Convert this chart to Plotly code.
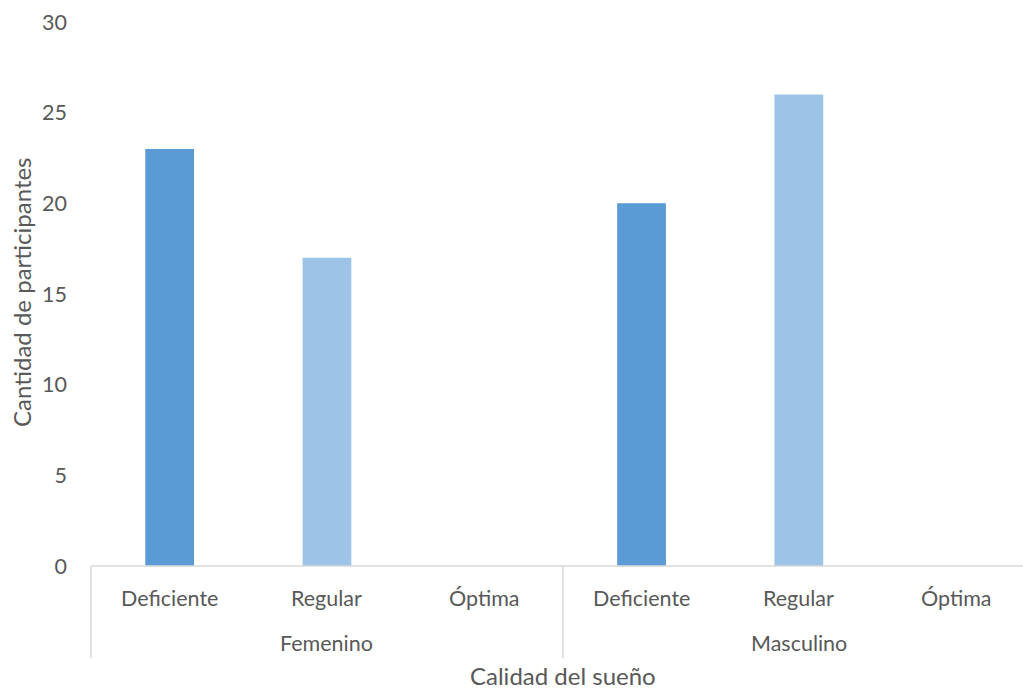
import plotly.graph_objects as go

# Sleep-quality counts by sex
grupos = ["Femenino", "Masculino"]
calidades = ["Deficiente", "Regular", "Óptima"]
valores = {
    "Deficiente": [23, 20],
    "Regular": [17, 26],
    "Óptima": [0, 0],
}
colores = {"Deficiente": "#5B9BD5", "Regular": "#9DC3E6", "Óptima": "#A5A5A5"}
y_ticks = [0, 5, 10, 15, 20, 25, 30]

W, H = 1023, 692
M_L, M_R, M_T, M_B = 91, 0, 22, 126
X_RANGE = [0, 5.925]
TXT = "#595959"
LINE = "#D9D9D9"
FONT = "Lato"
TICK_SIZE = 21.5
TITLE_SIZE = 24

n_cal = len(calidades)
plot_w = W - M_L - M_R
plot_h = H - M_T - M_B


def xp(v):
    """Data x -> paper x."""
    return (v - X_RANGE[0]) / (X_RANGE[1] - X_RANGE[0])


def yp(px_below_axis):
    """Pixels below the zero line -> paper y."""
    return -px_below_axis / plot_h


fig = go.Figure()
for j, cal in enumerate(calidades):
    xs = [g * n_cal + j + 0.5 for g in range(len(grupos))]
    fig.add_trace(go.Bar(
        x=xs, y=valores[cal], width=0.31, name=cal,
        marker=dict(color=colores[cal], line=dict(width=0)),
        showlegend=False, hoverinfo="skip",
    ))

annotations = []
shapes = []
# two-level category labels
for g in range(len(grupos)):
    for j, cal in enumerate(calidades):
        annotations.append(dict(
            x=xp(g * n_cal + j + 0.5), y=yp(32), xref="paper", yref="paper",
            text=cal, showarrow=False, xanchor="center", yanchor="middle",
            font=dict(family=FONT, size=TICK_SIZE, color=TXT)))
    annotations.append(dict(
        x=xp(g * n_cal + n_cal / 2), y=yp(77), xref="paper", yref="paper",
        text=grupos[g], showarrow=False, xanchor="center", yanchor="middle",
        font=dict(family=FONT, size=TICK_SIZE, color=TXT)))
    # group separator
    shapes.append(dict(
        type="line", xref="paper", yref="paper",
        x0=xp(g * n_cal), x1=xp(g * n_cal), y0=0, y1=yp(92),
        line=dict(color=LINE, width=1.5)))

# axis titles
annotations.append(dict(
    x=xp(n_cal), y=yp(M_B - 1), xref="paper", yref="paper",
    text="Calidad del sueño", showarrow=False,
    xanchor="center", yanchor="bottom", borderpad=0,
    font=dict(family=FONT, size=TITLE_SIZE, color=TXT)))
annotations.append(dict(
    x=-(M_L - 21) / plot_w, y=(566 - 292) / plot_h, xref="paper", yref="paper",
    text="Cantidad de participantes", textangle=-90, showarrow=False,
    xanchor="center", yanchor="middle",
    font=dict(family=FONT, size=TITLE_SIZE, color=TXT)))

# baseline
shapes.append(dict(type="line", xref="paper", yref="paper",
                   x0=0, x1=1, y0=0, y1=0, line=dict(color=LINE, width=1.5)))

fig.update_layout(
    width=W, height=H,
    margin=dict(l=M_L, r=M_R, t=M_T, b=M_B, pad=0),
    paper_bgcolor="white", plot_bgcolor="white",
    barmode="overlay",
    font=dict(family=FONT, color=TXT),
    xaxis=dict(range=X_RANGE, showticklabels=False, showgrid=False,
               zeroline=False, showline=False, ticks="", fixedrange=True),
    yaxis=dict(range=[0, 30], tickvals=y_ticks, showgrid=False,
               zeroline=False, showline=False, ticks="",
               tickfont=dict(family=FONT, size=TICK_SIZE, color=TXT),
               ticklabelstandoff=23),
    annotations=annotations,
    shapes=shapes,
)

fig.write_html("out.html")
